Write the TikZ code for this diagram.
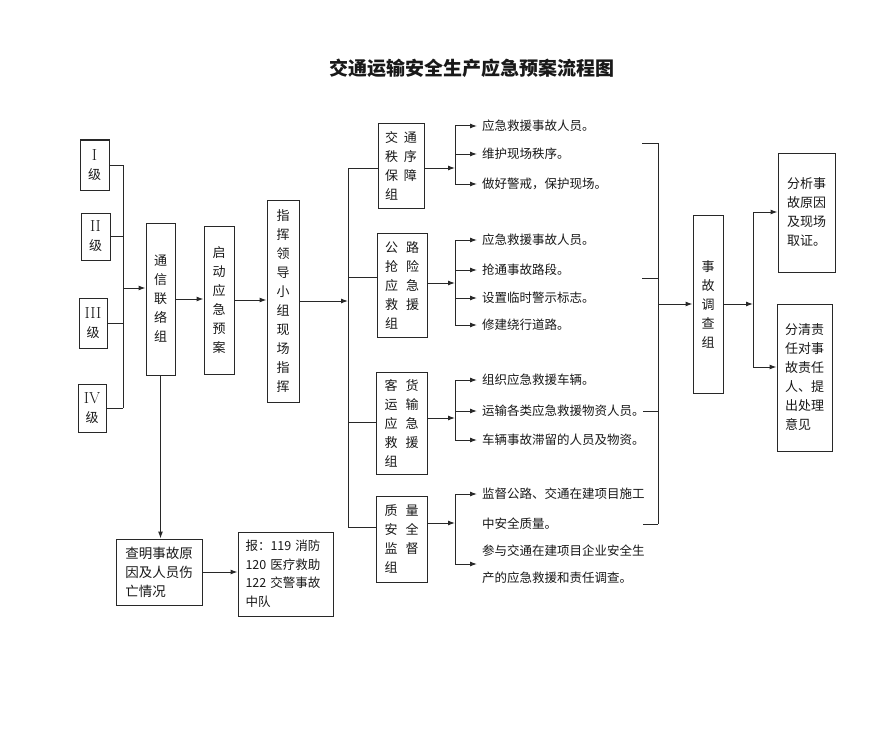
\documentclass[tikz,border=0pt]{standalone}
\usepackage{fontspec}
\newfontfamily\cjk{Noto Sans CJK SC}
\usetikzlibrary{arrows.meta}
\definecolor{ln}{RGB}{40,40,40}
\definecolor{tx}{RGB}{25,25,25}
\begin{document}
\begin{tikzpicture}[x=1pt,y=-1pt,
  lk/.style={draw=ln,line width=1pt},
  box/.style={draw=ln,line width=1pt,inner sep=0pt,align=center,text=tx,
    font=\cjk\fontsize{13}{19}\selectfont},
  lbox/.style={box,align=left},
  item/.style={anchor=west,inner xsep=5pt,inner ysep=0pt,text=tx,align=left,
    font=\cjk\fontsize{12.5}{15}\selectfont},
  arr/.style={lk,-{Latex[length=7pt,width=5pt]}}
]
\useasboundingbox[fill=white] (0,0) rectangle (891,741);

% title
\node[text=tx,font=\cjk\bfseries\fontsize{19}{19}\selectfont] (title) at (472,68) {交通运输安全生产应急预案流程图};

% level boxes
\node[box,minimum width=29,minimum height=50] (L1) at (94.5,165) {{\rmfamily\fontsize{16}{16}\selectfont I}\\级};
\node[box,minimum width=29,minimum height=47] (L2) at (95.5,236.5) {{\rmfamily\fontsize{16}{16}\selectfont II}\\级};
\node[box,minimum width=28,minimum height=50] (L3) at (93,323) {{\rmfamily\fontsize{16}{16}\selectfont III}\\级};
\node[box,minimum width=28,minimum height=48] (L4) at (92,408) {{\rmfamily\fontsize{16}{16}\selectfont IV}\\级};

% main chain
\node[box,minimum width=29,minimum height=152] (tx) at (160.5,299) {通\\信\\联\\络\\组};
\node[box,minimum width=30,minimum height=148] (qd) at (219,300) {启\\动\\应\\急\\预\\案};
\node[box,minimum width=32,minimum height=202] (zh) at (283,301) {指\\挥\\领\\导\\小\\组\\现\\场\\指\\挥};

% groups
\node[lbox,minimum width=46,minimum height=84] (G1) at (401,166) {交\hspace{6pt}通\\秩\hspace{6pt}序\\保\hspace{6pt}障\\组};
\node[lbox,minimum width=50,minimum height=104] (G2) at (402,285) {公\hspace{8pt}路\\抢\hspace{8pt}险\\应\hspace{8pt}急\\救\hspace{8pt}援\\组};
\node[lbox,minimum width=51,minimum height=102] (G3) at (401.5,423) {客\hspace{8pt}货\\运\hspace{8pt}输\\应\hspace{8pt}急\\救\hspace{8pt}援\\组};
\node[lbox,minimum width=51,minimum height=86] (G4) at (401.5,539) {质\hspace{8pt}量\\安\hspace{8pt}全\\监\hspace{8pt}督\\组};

% investigation
\node[box,minimum width=30,minimum height=178] (sg) at (708,304) {事\\故\\调\\查\\组};
\node[lbox,minimum width=57,minimum height=119] (R1) at (806.5,212.5) {分析事\\故原因\\及现场\\取证。};
\node[lbox,minimum width=55,minimum height=147] (R2) at (804.5,377.5) {分清责\\任对事\\故责任\\人、提\\出处理\\意见};

% bottom
\node[lbox,minimum width=86,minimum height=66,font=\cjk\fontsize{13.5}{19}\selectfont] (CM) at (159,572) {查明事故原\\因及人员伤\\亡情况};
\node[lbox,minimum width=95,minimum height=84,text width=80pt,font=\cjk\fontsize{12.5}{18.5}\selectfont] (BAO) at (285.5,574) {报：119 消防\\120 医疗救助\\122 交警事故\\中队};

% level bus
\coordinate (bx) at (123,0);
\draw[lk] (L1.east -| bx) -- (L4.east -| bx);
\foreach \n in {L1,L2,L3,L4} \draw[lk] (\n.east) -- (\n.east -| bx);
\coordinate (bm) at (123,288);
\draw[arr] (bm) -- (bm -| tx.west);
\draw[arr] (tx.east) -- (tx.east -| qd.west);
\draw[arr] (qd.east) -- (qd.east -| zh.west);

% group bus
\coordinate (gx) at (348,0);
\coordinate (g1) at (348,168);
\coordinate (g2) at (348,277);
\coordinate (g3) at (348,422);
\coordinate (g4) at (348,527);
\draw[arr] (zh.east) -- (zh.east -| gx);
\draw[lk] (g1) -- (g4);
\draw[lk] (g1) -- (g1 -| G1.west);
\draw[lk] (g2) -- (g2 -| G2.west);
\draw[lk] (g3) -- (g3 -| G3.west);
\draw[lk] (g4) -- (g4 -| G4.west);

% items group 1
\node[item] (i11) at (477,126) {应急救援事故人员。};
\node[item] (i12) at (477,154) {维护现场秩序。};
\node[item] (i13) at (477,184) {做好警戒，保护现场。};
\coordinate (k1) at (455,168);
\draw[arr] (k1 -| G1.east) -- (k1);
\draw[lk] (i11.west -| k1) -- (i13.west -| k1);
\foreach \n in {i11,i12,i13} \draw[arr] (\n.west -| k1) -- (\n.west);

% items group 2
\node[item] (i21) at (477,240) {应急救援事故人员。};
\node[item] (i22) at (477,270) {抢通事故路段。};
\node[item] (i23) at (477,298) {设置临时警示标志。};
\node[item] (i24) at (477,325) {修建绕行道路。};
\coordinate (k2) at (455,283);
\draw[arr] (k2 -| G2.east) -- (k2);
\draw[lk] (i21.west -| k2) -- (i24.west -| k2);
\foreach \n in {i21,i22,i23,i24} \draw[arr] (\n.west -| k2) -- (\n.west);

% items group 3
\node[item] (i31) at (477,380) {组织应急救援车辆。};
\node[item] (i32) at (477,411) {运输各类应急救援物资人员。};
\node[item] (i33) at (477,440) {车辆事故滞留的人员及物资。};
\coordinate (k3) at (455,418);
\draw[arr] (k3 -| G3.east) -- (k3);
\draw[lk] (i31.west -| k3) -- (i33.west -| k3);
\foreach \n in {i31,i32,i33} \draw[arr] (\n.west -| k3) -- (\n.west);

% items group 4
\node[item] (i41) at (477,494) {监督公路、交通在建项目施工};
\node[item] (i41b) at (477,524) {中安全质量。};
\node[item,font=\cjk\fontsize{12.5}{27}\selectfont] (i42) at (477,564) {参与交通在建项目企业安全生\\产的应急救援和责任调查。};
\coordinate (k4) at (455,523);
\draw[arr] (k4 -| G4.east) -- (k4);
\draw[lk] (i41.west -| k4) -- (i42.west -| k4);
\draw[arr] (i41.west -| k4) -- (i41.west);
\draw[arr] (i42.west -| k4) -- (i42.west);

% right bracket
\coordinate (rb1) at (658,143);
\coordinate (rb2) at (658,278);
\coordinate (rb3) at (658,411);
\coordinate (rb4) at (658,524);
\coordinate (rt1) at (642,143);
\coordinate (rt2) at (642,278);
\coordinate (rt3) at (643,411);
\coordinate (rt4) at (643,524);
\draw[lk] (rb1) -- (rb4);
\draw[lk] (rt1) -- (rb1);
\draw[lk] (rt2) -- (rb2);
\draw[lk] (rt3) -- (rb3);
\draw[lk] (rt4) -- (rb4);
\draw[arr] (sg.west -| rb1) -- (sg.west);

% investigation outputs
\coordinate (vx) at (753,304);
\coordinate (v1) at (753,212);
\coordinate (v2) at (753,367);
\draw[arr] (sg.east) -- (vx);
\draw[lk] (v1) -- (v2);
\draw[arr] (v1) -- (v1 -| R1.west);
\draw[arr] (v2) -- (v2 -| R2.west);

% bottom connectors
\draw[arr] (tx.south) -- (tx.south |- CM.north);
\draw[arr] (CM.east) -- (CM.east -| BAO.west);
\end{tikzpicture}
\end{document}
